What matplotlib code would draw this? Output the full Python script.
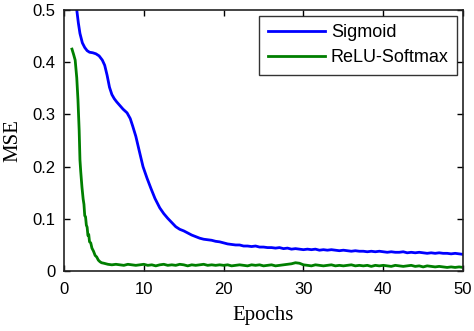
import matplotlib.pyplot as plt
import numpy as np

# Sigmoid network: MSE per epoch
sig_epochs = [1.0, 1.3, 1.6, 1.8, 2.0, 2.3, 2.6, 2.9, 3.2, 3.6, 4.0, 4.4,
              4.8, 5.1, 5.4, 5.7, 6.0, 6.3, 6.6, 7.0, 7.4, 7.9, 8.3, 8.6,
              9.0, 9.4, 9.9, 10.4, 10.9, 11.4, 12.0, 12.5, 13.0, 13.5, 14.0,
              14.5] + [15 + 0.5 * i for i in range(71)]
sig_mse = [0.58, 0.54, 0.50, 0.475, 0.455, 0.437, 0.428, 0.422, 0.419,
           0.418, 0.416, 0.412, 0.404, 0.394, 0.375, 0.352, 0.338, 0.330,
           0.324, 0.317, 0.310, 0.303, 0.292, 0.278, 0.258, 0.232, 0.200,
           0.178, 0.158, 0.139, 0.121, 0.110, 0.101, 0.093, 0.085, 0.080,
           0.077, 0.073, 0.069, 0.066, 0.063, 0.061, 0.060, 0.059, 0.057,
           0.056, 0.054, 0.052, 0.051, 0.050, 0.050, 0.048, 0.048, 0.047,
           0.048, 0.046, 0.046, 0.045, 0.045, 0.044, 0.045, 0.043, 0.044,
           0.042, 0.043, 0.042, 0.041, 0.042, 0.041, 0.042, 0.040, 0.041,
           0.040, 0.041, 0.040, 0.039, 0.040, 0.039, 0.038, 0.039, 0.038,
           0.038, 0.037, 0.038, 0.037, 0.038, 0.037, 0.036, 0.037, 0.036,
           0.036, 0.037, 0.035, 0.036, 0.035, 0.036, 0.035, 0.034, 0.035,
           0.034, 0.035, 0.034, 0.034, 0.033, 0.034, 0.033, 0.032]

# ReLU-Softmax network: MSE per epoch
relu_epochs = [1.0, 1.2, 1.4, 1.6, 1.75, 1.9, 2.0, 2.1, 2.25, 2.4, 2.5,
               2.6, 2.7, 2.8, 2.9, 3.0, 3.1, 3.2, 3.35, 3.5, 3.7, 3.9, 4.1,
               4.3, 4.5, 4.7] + [5 + 0.5 * i for i in range(91)]
relu_mse = [0.425, 0.415, 0.404, 0.37, 0.328, 0.27, 0.213, 0.19, 0.161,
            0.138, 0.128, 0.106, 0.104, 0.088, 0.084, 0.068, 0.070, 0.056,
            0.054, 0.044, 0.038, 0.030, 0.027, 0.021, 0.018, 0.016,
            0.015, 0.013, 0.012, 0.013, 0.012, 0.011, 0.013, 0.012, 0.011,
            0.012, 0.013, 0.011, 0.012, 0.010, 0.012, 0.013, 0.011, 0.012,
            0.011, 0.013, 0.012, 0.010, 0.012, 0.011, 0.012, 0.013, 0.011,
            0.012, 0.011, 0.012, 0.011, 0.012, 0.010, 0.011, 0.012, 0.011,
            0.010, 0.012, 0.011, 0.012, 0.010, 0.011, 0.012, 0.010, 0.011,
            0.012, 0.013, 0.014, 0.016, 0.015, 0.012, 0.011, 0.010, 0.012,
            0.011, 0.010, 0.011, 0.012, 0.010, 0.011, 0.010, 0.011, 0.012,
            0.010, 0.011, 0.010, 0.011, 0.009, 0.011, 0.010, 0.011, 0.010,
            0.009, 0.011, 0.010, 0.009, 0.010, 0.011, 0.009, 0.010, 0.008,
            0.010, 0.009, 0.008, 0.009, 0.008, 0.007, 0.008, 0.007, 0.008,
            0.007]

fig = plt.figure(figsize=(4.74, 3.31), dpi=100)
ax = fig.add_axes([0.135, 0.181, 0.842, 0.789])

ax.plot(sig_epochs, sig_mse, color='#0000ff', lw=2, label='Sigmoid')
ax.plot(relu_epochs, relu_mse, color='#007f00', lw=2, label='ReLU-Softmax')

ax.set_xlim(0, 50)
ax.set_ylim(0, 0.5)
ax.set_xticks(np.arange(0, 51, 10))
ax.set_yticks([0, 0.1, 0.2, 0.3, 0.4, 0.5])
ax.set_yticklabels(['0', '0.1', '0.2', '0.3', '0.4', '0.5'])
ax.tick_params(direction='in', top=True, right=True, length=4, width=1,
               labelsize=12)
ax.tick_params(axis='x', pad=8)
ax.tick_params(axis='y', pad=6)
for lab in ax.get_xticklabels() + ax.get_yticklabels():
    lab.set_fontfamily('Liberation Sans')
for s in ax.spines.values():
    s.set_linewidth(1.2)
    s.set_color('#222222')

ax.set_xlabel('Epochs', fontfamily='Liberation Serif', fontsize=15, labelpad=6)
ax.set_ylabel('MSE', fontfamily='Liberation Serif', fontsize=15, labelpad=7)

leg = ax.legend(loc='upper right', fancybox=False, edgecolor='black',
                prop={'family': 'Liberation Sans', 'size': 13},
                handlelength=3.2, borderpad=0.45, labelspacing=0.45,
                handletextpad=0.3, borderaxespad=0.35)
leg.get_frame().set_linewidth(1)

fig.savefig('out.png', dpi=100)
